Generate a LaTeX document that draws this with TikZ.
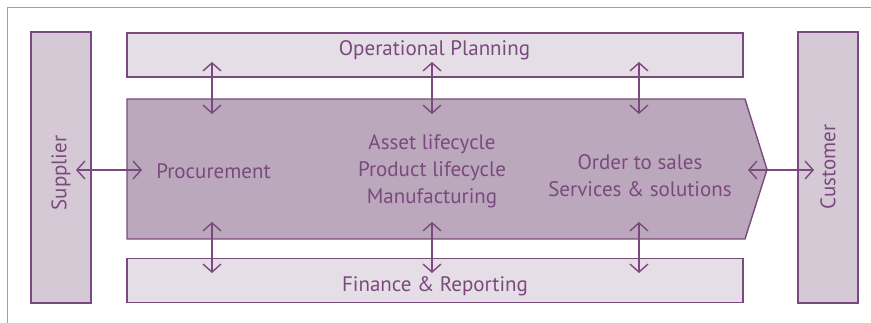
\documentclass[tikz,border=0pt]{standalone}
\usepackage{fontspec}
\setmainfont{PT Sans}
\usetikzlibrary{arrows.meta}
\definecolor{plum}{HTML}{7A4A7E}
\definecolor{lightplum}{HTML}{E6DEE6}
\definecolor{sideplum}{HTML}{D6C9D6}
\definecolor{midplum}{HTML}{BCA8BC}
\definecolor{framegray}{HTML}{A0A0A0}
\tikzstyle{lane}=[draw=plum, line width=1.4pt, fill=lightplum,
                  minimum width=616pt, minimum height=44pt, inner sep=0pt]
\tikzstyle{party}=[draw=plum, line width=1.4pt, fill=sideplum,
                   minimum width=60pt, minimum height=271pt, inner sep=0pt]
\tikzstyle{core}=[draw=plum, line width=1.4pt, fill=midplum]
\tikzstyle{label-text}=[text=plum, align=center, inner sep=0pt,
                        font=\fontsize{21}{27}\selectfont]
\tikzstyle{link-arrow}=[draw=plum, line width=1.4pt,
                        {Straight Barb[length=8pt,width=18pt]}-{Straight Barb[length=8pt,width=18pt]}]

\begin{document}
\begin{tikzpicture}[x=1pt,y=-1pt]
\useasboundingbox (0,0) rectangle (871,323);
\draw[framegray, line width=1.5pt] (7.5,323) -- (7.5,7.5) -- (871,7.5);
\node[party] (supplier) at (61,167.5) {};
\node[label-text, rotate=90] (supplier-text) at (61,173) {Supplier};
\node[party] (customer) at (828,167.5) {};
\node[label-text, rotate=90] (customer-text) at (828,167) {Customer};
\node[lane] (planning) at (435,55) {};
\node[label-text] (planning-text) at (434.5,50.5) {Operational Planning};
\node[lane] (finance) at (435,280.5) {};
\node[label-text] (finance-text) at (435,286.5) {Finance \& Reporting};
\draw[core] (127,99) -- (745,99) -- (767,169.5) -- (745,239) -- (127,239) -- cycle;
\node[label-text] (procure) at (213.5,171) {Procurement};
\node[label-text] (lifecycle) at (432,171.5) {Asset lifecycle\\Product lifecycle\\Manufacturing};
\node[label-text] (sales) at (640,176) {Order to sales\\Services \& solutions};
% ends of the connectors
\coordinate (p1) at (212,62);  \coordinate (m1) at (212,114);
\coordinate (p2) at (432,62);  \coordinate (m2) at (432,114);
\coordinate (p3) at (639,62);  \coordinate (m3) at (639,114);
\coordinate (n1) at (212,222); \coordinate (f1) at (212,273);
\coordinate (n2) at (432,222); \coordinate (f2) at (432,273);
\coordinate (n3) at (639,222); \coordinate (f3) at (639,273);
\coordinate (s) at (76,170);   \coordinate (pr) at (142,170);
\coordinate (os) at (748,170); \coordinate (c) at (814,170);
\draw[link-arrow] (p1) to (m1);
\draw[link-arrow] (p2) to (m2);
\draw[link-arrow] (p3) to (m3);
\draw[link-arrow] (n1) to (f1);
\draw[link-arrow] (n2) to (f2);
\draw[link-arrow] (n3) to (f3);
\draw[link-arrow] (s) to (pr);
\draw[link-arrow] (os) to (c);
\end{tikzpicture}
\end{document}
